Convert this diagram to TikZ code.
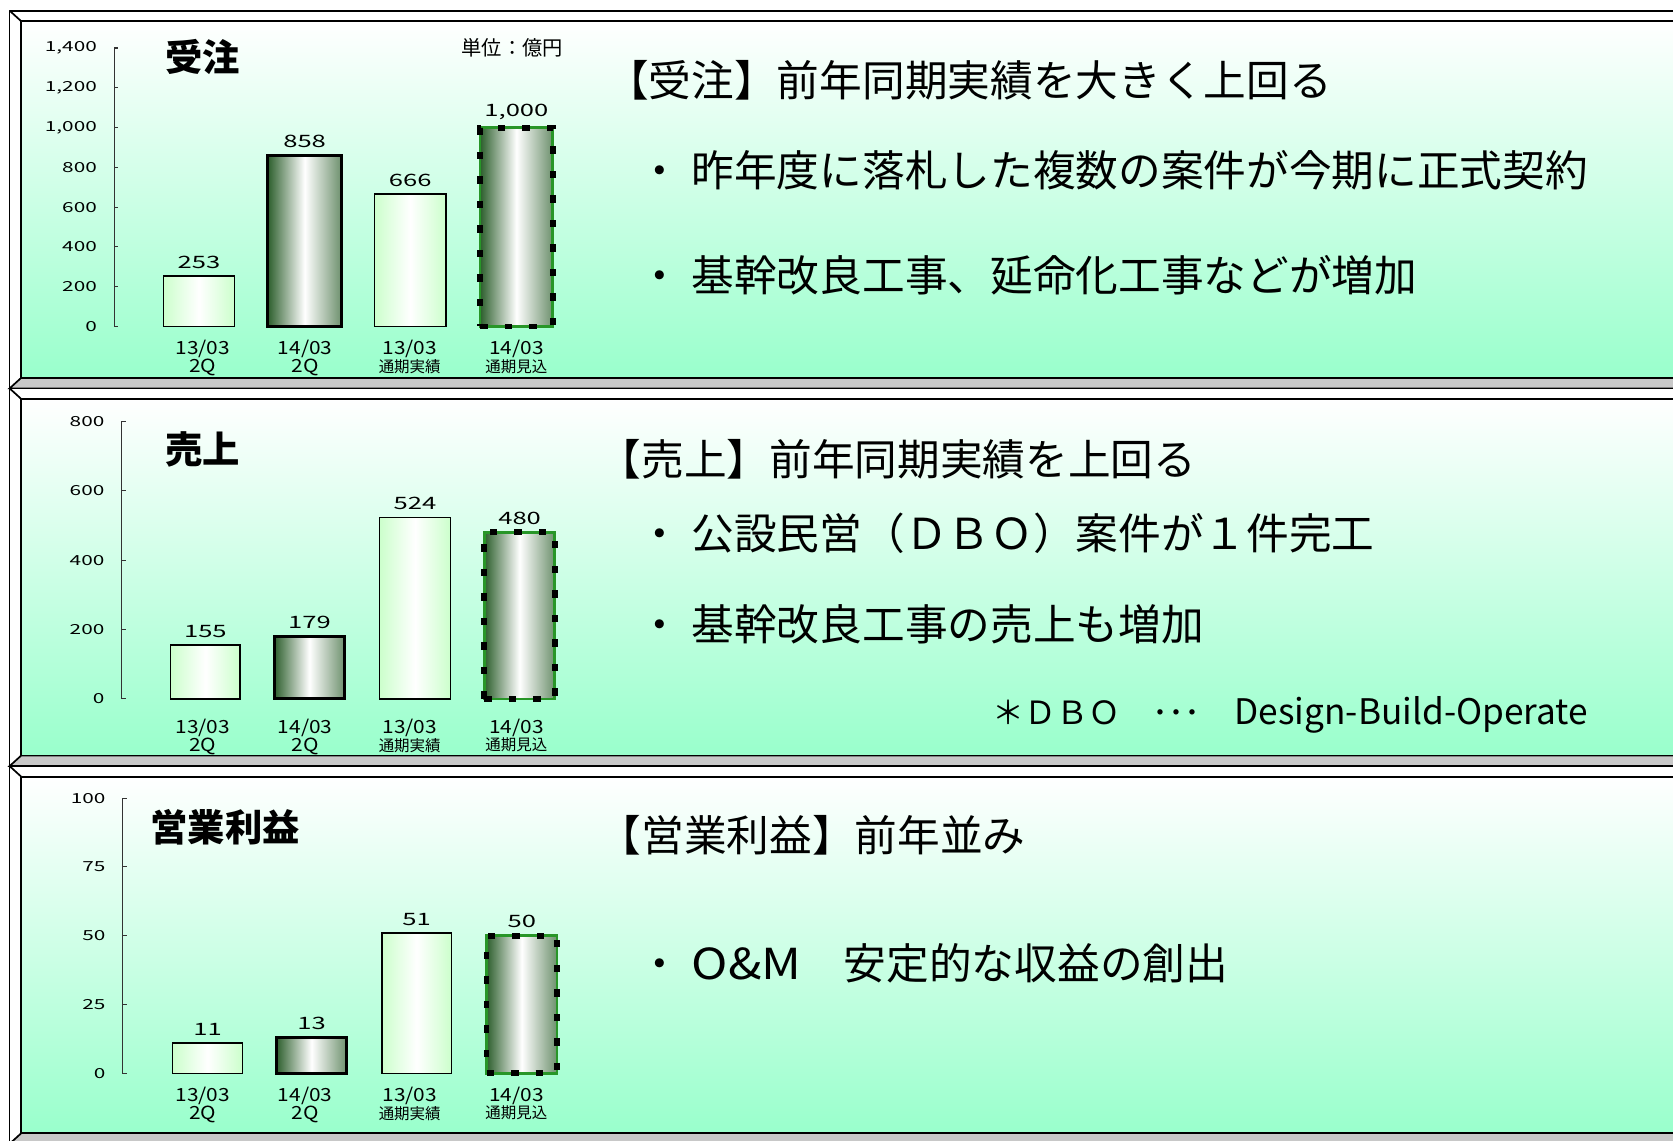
\documentclass[tikz,border=0pt]{standalone}
\usepackage{fontspec}
\setmainfont{Noto Sans CJK JP}
\newfontfamily\numfont[FakeStretch=1.5]{Noto Sans CJK JP}
\newfontfamily\catfont[FakeStretch=1.15]{Noto Sans CJK JP}
\usepackage{tikz}
\usetikzlibrary{positioning}
\definecolor{mint}{RGB}{153,255,204}
\definecolor{bandgrey}{RGB}{200,200,200}
\definecolor{barlight}{RGB}{204,255,204}
\definecolor{bardark}{RGB}{45,95,45}
\definecolor{bargrey}{RGB}{110,145,110}
\definecolor{dashgreen}{RGB}{40,150,40}
\tikzset{
	every node/.style={inner sep=0pt}
}
\tikzset{
	bevel/.style={draw=black,fill=white,line width=1.6pt},
	band/.style={draw=black,fill=bandgrey,line width=1.6pt},
	panel/.style={draw=black,line width=1.6pt,top color=white,bottom color=mint}
}
\tikzset{
	bar/.style={rectangle,outer sep=0pt,anchor=south,minimum width=66pt},
	lightbar/.style={bar,draw=black,line width=1.2pt,left color=barlight,right color=barlight,middle color=white},
	darkbar/.style={bar,draw=black,line width=3pt,left color=bardark,right color=bargrey,middle color=white},
	planbar/.style={bar,draw=dashgreen,line width=2.5pt,left color=bardark,right color=bargrey,middle color=white,
		postaction={draw=black,line width=5.5pt,dash pattern=on 7pt off 16pt}},
	axisline/.style={draw=black!80,line width=1pt}
}
\tikzset{
	ticklabel/.style={font=\numfont\fontsize{13}{13}\selectfont,anchor=east},
	valuelabel/.style={font=\numfont\fontsize{16}{16}\selectfont},
	catlabel/.style={font=\catfont\fontsize{17}{14.5}\selectfont,align=center,anchor=north},
	charttitle/.style={font=\bfseries\fontsize{35}{40}\selectfont},
	unitlabel/.style={font=\fontsize{19}{20}\selectfont},
	headline/.style={font=\fontsize{40}{44}\selectfont,anchor=west},
	footnote/.style={font=\fontsize{30}{32}\selectfont,anchor=west}
}
\newcommand{\catjp}[1]{{\normalfont\fontsize{14.5}{14.5}\selectfont #1}}

\begin{document}
\begin{tikzpicture}[x=1pt,y=-1pt]
	\useasboundingbox (0,0) rectangle (1568,1068.5);
	\clip (0,0) rectangle (1568,1068.5);
	\fill[white] (0,0) rectangle (1568,1068.5);

	% frames
	\draw[bevel] (9,10) rectangle (1600,364);
	\draw[band] (9,364) -- (20,354) -- (1600,354) -- (1600,364) -- cycle;
	\draw[panel] (20,20) rectangle (1600,354);
	\draw[bevel] (9,10) -- (20,20);
	\draw[bevel] (9,364) rectangle (1600,718);
	\draw[band] (9,718) -- (20,708) -- (1600,708) -- (1600,718) -- cycle;
	\draw[panel] (20,374) rectangle (1600,708);
	\draw[bevel] (9,364) -- (20,374);
	\draw[bevel] (9,718) rectangle (1600,1072);
	\draw[band] (9,1072) -- (20,1062) -- (1600,1062) -- (1600,1072) -- cycle;
	\draw[panel] (20,728) rectangle (1600,1062);
	\draw[bevel] (9,718) -- (20,728);

	% orders
	\draw[axisline] (107,45) -- (107,306) -- ++(4,0) (107,268.7) -- ++(4,0) (107,231.4) -- ++(4,0)
		(107,194.1) -- ++(4,0) (107,156.9) -- ++(4,0) (107,119.6) -- ++(4,0) (107,82.3) -- ++(4,0) (107,45) -- ++(4,0);
	\node[ticklabel] (ord0) at (91,306) {0};
	\node[ticklabel] (ord200) at (91,268.7) {200};
	\node[ticklabel] (ord400) at (91,231.4) {400};
	\node[ticklabel] (ord600) at (91,194.1) {600};
	\node[ticklabel] (ord800) at (91,156.9) {800};
	\node[ticklabel] (ord1000) at (91,119.6) {1,000};
	\node[ticklabel] (ord1200) at (91,82.3) {1,200};
	\node[ticklabel] (ord1400) at (91,45) {1,400};
	\node[lightbar,minimum width=67pt,minimum height=47.2pt] (ordb1) at (186.5,306) {};
	\node[darkbar,minimum width=69pt,minimum height=159.9pt] (ordb2) at (285.5,306) {};
	\node[lightbar,minimum width=67pt,minimum height=124.1pt] (ordb3) at (384.5,306) {};
	\node[planbar,minimum width=68pt,minimum height=186.4pt] (ordb4) at (484,306) {};
	\node[valuelabel,above=7pt of ordb1] (ordv1) {253};
	\node[valuelabel,above=7pt of ordb2] (ordv2) {858};
	\node[valuelabel,above=7pt of ordb3] (ordv3) {666};
	\node[valuelabel,above=7pt of ordb4] (ordv4) {1,000};
	\node[catlabel] (ordc1) at (190,319) {13/03\\2Q};
	\node[catlabel] (ordc2) at (286,319) {14/03\\2Q};
	\node[catlabel] (ordc3) at (384,319) {13/03\\\catjp{通期実績}};
	\node[catlabel] (ordc4) at (484,319) {14/03\\\catjp{通期見込}};
	\node[charttitle] (ordtitle) at (190,53) {受注};
	\node[unitlabel] (unit) at (480,45) {単位：億円};
	\node[headline] (ordhead) at (568,75) {【受注】前年同期実績を大きく上回る};
	\node[headline] (ordp1) at (598,160) {・\hspace{10pt}昨年度に落札した複数の案件が今期に正式契約};
	\node[headline] (ordp2) at (598,258) {・\hspace{10pt}基幹改良工事、延命化工事などが増加};

	% sales
	\draw[axisline] (114,395) -- (114,655) -- ++(4,0) (114,590) -- ++(4,0) (114,525) -- ++(4,0)
		(114,460) -- ++(4,0) (114,395) -- ++(4,0);
	\node[ticklabel] (sal0) at (98,655) {0};
	\node[ticklabel] (sal200) at (98,590) {200};
	\node[ticklabel] (sal400) at (98,525) {400};
	\node[ticklabel] (sal600) at (98,460) {600};
	\node[ticklabel] (sal800) at (98,395) {800};
	\node[lightbar,minimum width=65pt,minimum height=50.4pt] (salb1) at (192.5,655) {};
	\node[darkbar,minimum width=66pt,minimum height=58.2pt] (salb2) at (290,655) {};
	\node[lightbar,minimum width=66pt,minimum height=170.3pt] (salb3) at (389,655) {};
	\node[planbar,minimum width=66pt,minimum height=156pt] (salb4) at (487,655) {};
	\node[valuelabel,above=7pt of salb1] (salv1) {155};
	\node[valuelabel,above=7pt of salb2] (salv2) {179};
	\node[valuelabel,above=7pt of salb3] (salv3) {524};
	\node[valuelabel,above=7pt of salb4] (salv4) {480};
	\node[catlabel] (salc1) at (190,674) {13/03\\2Q};
	\node[catlabel] (salc2) at (286,674) {14/03\\2Q};
	\node[catlabel] (salc3) at (384,674) {13/03\\\catjp{通期実績}};
	\node[catlabel] (salc4) at (484,674) {14/03\\\catjp{通期見込}};
	\node[charttitle] (saltitle) at (190,421) {売上};
	\node[headline] (salhead) at (561,430) {【売上】前年同期実績を上回る};
	\node[headline] (salp1) at (598,500) {・\hspace{10pt}公設民営（ＤＢＯ）案件が１件完工};
	\node[headline] (salp2) at (598,585) {・\hspace{10pt}基幹改良工事の売上も増加};
	\node[footnote] (dbo) at (930,670) {＊ＤＢＯ　･･･\hspace{32pt}{\fontsize{33}{34}\selectfont Design-Build-Operate}};

	% operating profit
	\draw[axisline] (115,748) -- (115,1006) -- ++(4,0) (115,941.5) -- ++(4,0) (115,877) -- ++(4,0)
		(115,812.5) -- ++(4,0) (115,748) -- ++(4,0);
	\node[ticklabel] (op0) at (99,1006) {0};
	\node[ticklabel] (op25) at (99,941.5) {25};
	\node[ticklabel] (op50) at (99,877) {50};
	\node[ticklabel] (op75) at (99,812.5) {75};
	\node[ticklabel] (op100) at (99,748) {100};
	\node[lightbar,minimum width=65pt,minimum height=28.4pt] (opb1) at (194.5,1006) {};
	\node[darkbar,minimum width=66pt,minimum height=33.5pt] (opb2) at (292,1006) {};
	\node[lightbar,minimum width=65pt,minimum height=131.6pt] (opb3) at (390.5,1006) {};
	\node[planbar,minimum width=66pt,minimum height=129pt] (opb4) at (489,1006) {};
	\node[valuelabel,above=7pt of opb1] (opv1) {11};
	\node[valuelabel,above=7pt of opb2] (opv2) {13};
	\node[valuelabel,above=7pt of opb3] (opv3) {51};
	\node[valuelabel,above=7pt of opb4] (opv4) {50};
	\node[catlabel] (opc1) at (190,1019) {13/03\\2Q};
	\node[catlabel] (opc2) at (286,1019) {14/03\\2Q};
	\node[catlabel] (opc3) at (384,1019) {13/03\\\catjp{通期実績}};
	\node[catlabel] (opc4) at (484,1019) {14/03\\\catjp{通期見込}};
	\node[charttitle] (optitle) at (211,775) {営業利益};
	\node[headline] (ophead) at (561,783) {【営業利益】前年並み};
	\node[headline] (opp1) at (598,903) {・\hspace{10pt}{\catfont O\&M}　安定的な収益の創出};
\end{tikzpicture}
\end{document}
